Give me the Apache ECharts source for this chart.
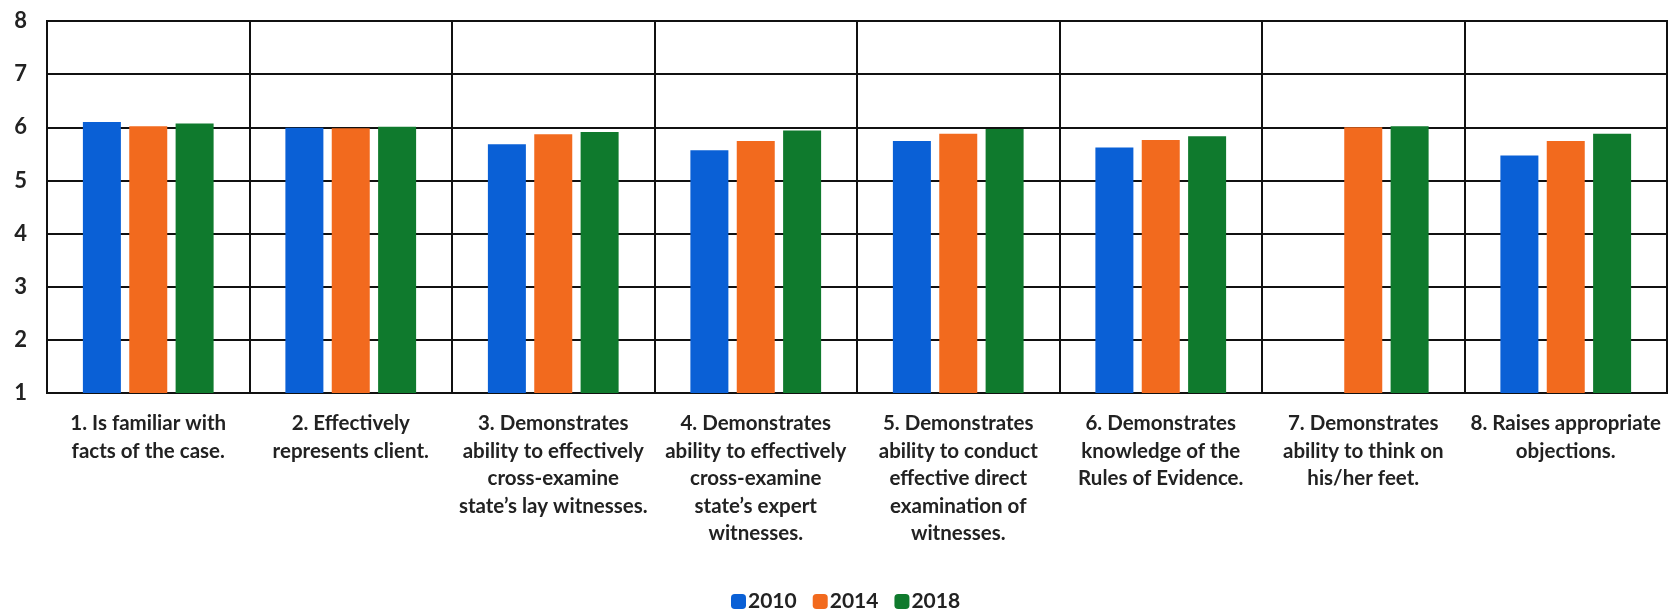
<!DOCTYPE html>
<html>
<head>
<meta charset="utf-8">
<script src="https://cdn.jsdelivr.net/npm/echarts@6/dist/echarts.min.js"></script>
<style>html,body{margin:0;padding:0;background:#fff;}#c{width:1669px;height:610px;}</style>
</head>
<body>
<div id="c"></div>
<script>
const categories = [
  "1. Is familiar with\nfacts of the case.",
  "2. Effectively\nrepresents client.",
  "3. Demonstrates\nability to effectively\ncross-examine\nstate\u2019s lay witnesses.",
  "4. Demonstrates\nability to effectively\ncross-examine\nstate\u2019s expert\nwitnesses.",
  "5. Demonstrates\nability to conduct\neffective direct\nexamination of\nwitnesses.",
  "6. Demonstrates\nknowledge of the\nRules of Evidence.",
  "7. Demonstrates\nability to think on\nhis/her feet.",
  "8. Raises appropriate\nobjections."
];
const seriesNames = ["2010", "2014", "2018"];
const values2010 = [6.10, 5.99, 5.68, 5.57, 5.74, 5.62, null, 5.47];
const values2014 = [6.02, 5.98, 5.87, 5.74, 5.88, 5.76, 6.00, 5.74];
const values2018 = [6.07, 6.01, 5.91, 5.94, 5.97, 5.83, 6.02, 5.88];
const yTicks = [1, 2, 3, 4, 5, 6, 7, 8];

const colors = ["#0a60d6", "#f26a1e", "#0f7a2d"];
const font = "Lato, 'Open Sans', sans-serif";

const chart = echarts.init(document.getElementById('c'));
const mk = (name, data, i) => ({
  name, type: 'bar', data, barWidth: 38, barGap: '22%',
  itemStyle: { color: colors[i] }
});
chart.setOption({
  animation: false,
  grid: { left: 47, right: 2, top: 21, bottom: 217, show: true, borderColor: '#111', borderWidth: 2 },
  legend: {
    data: seriesNames, top: 586, left: 726,
    itemWidth: 15, itemHeight: 15, itemGap: 16, icon: 'roundRect',
    textStyle: { fontFamily: font, fontWeight: 'bold', fontSize: 21, color: '#222', padding: [0, 0, 0, -3] }
  },
  xAxis: {
    type: 'category', data: categories,
    axisLine: { show: true, lineStyle: { color: '#111', width: 2 } },
    axisTick: { show: false },
    splitLine: { show: true, lineStyle: { color: '#111', width: 2 } },
    axisLabel: {
      interval: 0, margin: 17, fontFamily: font, fontWeight: 'bold', fontSize: 20.5,
      lineHeight: 27.5, color: '#222', align: 'center', verticalAlign: 'top'
    }
  },
  yAxis: {
    type: 'value', min: yTicks[0], max: yTicks[yTicks.length - 1], interval: 1,
    axisLine: { show: true, lineStyle: { color: '#111', width: 2 } },
    axisTick: { show: false },
    splitLine: { show: true, lineStyle: { color: '#111', width: 2 } },
    axisLabel: { margin: 20, fontFamily: font, fontWeight: 'bold', fontSize: 22, color: '#222' }
  },
  series: [mk(seriesNames[0], values2010, 0), mk(seriesNames[1], values2014, 1), mk(seriesNames[2], values2018, 2)]
});
</script>
</body>
</html>
